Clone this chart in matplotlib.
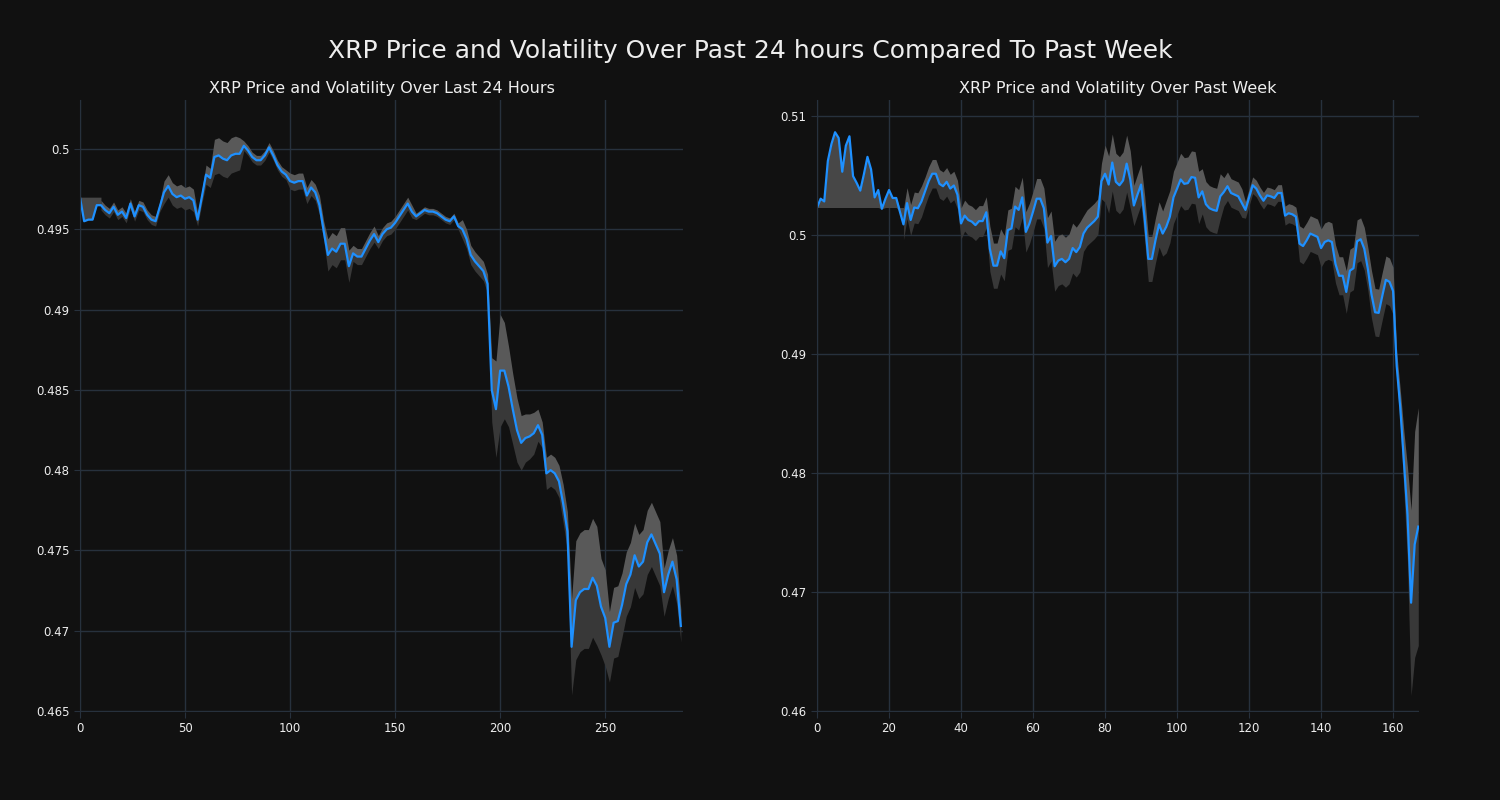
import numpy as np
import matplotlib
matplotlib.use("Agg")
import matplotlib.pyplot as plt

# last 24 hours, one reading every 2 steps (x = 0, 2, ..., 286)
day_x = np.arange(0, 288, 2)
day_price = [
    0.4970, 0.4955, 0.4956, 0.4956, 0.4965, 0.4965, 0.4962, 0.4960, 0.4964, 0.4959,
    0.4961, 0.4957, 0.4966, 0.4958, 0.4965, 0.4964, 0.4959, 0.4956, 0.4955, 0.4964,
    0.4973, 0.4977, 0.4972, 0.4970, 0.4971, 0.4969, 0.4970, 0.4968, 0.4956, 0.4970,
    0.4984, 0.4982, 0.4995, 0.4996, 0.4994, 0.4993, 0.4996, 0.4997, 0.4997, 0.5002,
    0.4999, 0.4995, 0.4993, 0.4993, 0.4996, 0.5001, 0.4996, 0.4990, 0.4986, 0.4984,
    0.4980, 0.4979, 0.4980, 0.4980, 0.4971, 0.4976, 0.4973, 0.4965, 0.4949, 0.4934,
    0.4938, 0.4936, 0.4941, 0.4941, 0.4927, 0.4935, 0.4933, 0.4933, 0.4938, 0.4943,
    0.4947, 0.4942, 0.4947, 0.4950, 0.4951, 0.4954, 0.4958, 0.4962, 0.4966, 0.4961,
    0.4958, 0.4960, 0.4962, 0.4961, 0.4961, 0.4960, 0.4958, 0.4956, 0.4955, 0.4958,
    0.4952, 0.4950, 0.4944, 0.4934, 0.4930, 0.4927, 0.4924, 0.4916, 0.4850, 0.4838,
    0.4862, 0.4862, 0.4852, 0.4838, 0.4825, 0.4817, 0.4820, 0.4821, 0.4823, 0.4828,
    0.4822, 0.4798, 0.4800, 0.4798, 0.4793, 0.4779, 0.4762, 0.4690, 0.4719, 0.4724,
    0.4726, 0.4726, 0.4733, 0.4728, 0.4715, 0.4708, 0.4690, 0.4705, 0.4706, 0.4716,
    0.4729, 0.4735, 0.4747, 0.4740, 0.4743, 0.4755, 0.4760, 0.4754, 0.4748, 0.4724,
    0.4735, 0.4743, 0.4732, 0.4703,
]
day_vol = [
    0, 0, 0, 0, 0, 0.0003, 0.0003, 0.0003, 0.0003, 0.0003,
    0.0003, 0.0003, 0.0003, 0.0003, 0.0003, 0.0003, 0.0003, 0.0003, 0.0003, 0.0003,
    0.0007, 0.0007, 0.0007, 0.0007, 0.0007, 0.0007, 0.0007, 0.0007, 0.0004, 0.0004,
    0.0006, 0.0006, 0.0011, 0.0011, 0.0011, 0.0011, 0.0011, 0.0011, 0.0010, 0.0003,
    0.0003, 0.0003, 0.0003, 0.0003, 0.0003, 0.0003, 0.0003, 0.0003, 0.0003, 0.0003,
    0.0005, 0.0005, 0.0005, 0.0005, 0.0005, 0.0005, 0.0005, 0.0006, 0.0006, 0.0010,
    0.0010, 0.0010, 0.0010, 0.0010, 0.0010, 0.0005, 0.0005, 0.0005, 0.0005, 0.0005,
    0.0005, 0.0004, 0.0004, 0.0004, 0.0004, 0.0004, 0.0004, 0.0004, 0.0004, 0.0004,
    0.0002, 0.0002, 0.0002, 0.0002, 0.0002, 0.0002, 0.0002, 0.0002, 0.0002, 0.0002,
    0.0002, 0.0006, 0.0006, 0.0006, 0.0006, 0.0006, 0.0006, 0.0006, 0.0020, 0.0030,
    0.0035, 0.0030, 0.0025, 0.0022, 0.0020, 0.0017, 0.0015, 0.0014, 0.0013, 0.0010,
    0.0008, 0.0010, 0.0010, 0.0010, 0.0010, 0.0012, 0.0012, 0.0030, 0.0037, 0.0037,
    0.0037, 0.0037, 0.0037, 0.0037, 0.0030, 0.0030, 0.0022, 0.0022, 0.0022, 0.0020,
    0.0020, 0.0020, 0.0020, 0.0020, 0.0020, 0.0020, 0.0020, 0.0020, 0.0020, 0.0015,
    0.0015, 0.0015, 0.0015, 0.0010,
]
day_warmup = 5

# past week, hourly
week_x = np.arange(168)
week_price = [
    0.50233, 0.50307, 0.50284, 0.50625, 0.50767, 0.50866, 0.50818, 0.50534, 0.50753, 0.50832,
    0.50497, 0.50440, 0.50375, 0.50511, 0.50659, 0.50554, 0.50318, 0.50380, 0.50222, 0.50307,
    0.50380, 0.50313, 0.50313, 0.50199, 0.50091, 0.50270, 0.50128, 0.50233, 0.50227, 0.50284,
    0.50369, 0.50455, 0.50517, 0.50517, 0.50432, 0.50412, 0.50449, 0.50392, 0.50418, 0.50341,
    0.50099, 0.50165, 0.50128, 0.50114, 0.50085, 0.50119, 0.50119, 0.50193, 0.49886, 0.49744,
    0.49744, 0.49864, 0.49807, 0.50043, 0.50057, 0.50241, 0.50213, 0.50318, 0.50028, 0.50099,
    0.50199, 0.50307, 0.50307, 0.50227, 0.49938, 0.49994, 0.49739, 0.49787, 0.49801, 0.49773,
    0.49801, 0.49892, 0.49858, 0.49901, 0.50014, 0.50063, 0.50091, 0.50119, 0.50156, 0.50455,
    0.50517, 0.50426, 0.50611, 0.50449, 0.50420, 0.50460, 0.50602, 0.50469, 0.50250, 0.50341,
    0.50426, 0.50142, 0.49801, 0.49801, 0.49957, 0.50091, 0.50014, 0.50071, 0.50156, 0.50318,
    0.50392, 0.50469, 0.50432, 0.50438, 0.50489, 0.50483, 0.50318, 0.50369, 0.50261, 0.50227,
    0.50213, 0.50205, 0.50327, 0.50364, 0.50412, 0.50355, 0.50341, 0.50327, 0.50270, 0.50213,
    0.50318, 0.50420, 0.50392, 0.50335, 0.50290, 0.50335, 0.50327, 0.50313, 0.50355, 0.50355,
    0.50165, 0.50185, 0.50176, 0.50156, 0.49929, 0.49909, 0.49957, 0.50014, 0.50000, 0.49986,
    0.49892, 0.49943, 0.49957, 0.49943, 0.49759, 0.49659, 0.49659, 0.49523, 0.49702, 0.49722,
    0.49949, 0.49966, 0.49886, 0.49716, 0.49503, 0.49352, 0.49347, 0.49489, 0.49625, 0.49608,
    0.49531, 0.48900, 0.48550, 0.48100, 0.47650, 0.46910, 0.47400, 0.47550,
]
week_vol = [
    0, 0, 0, 0, 0, 0, 0, 0, 0, 0,
    0, 0, 0, 0, 0, 0, 0, 0, 0, 0,
    0, 0, 0, 0, 0.0013, 0.0013, 0.0013, 0.0013, 0.0013, 0.0013,
    0.0012, 0.0012, 0.0012, 0.0012, 0.0012, 0.0012, 0.0012, 0.0012, 0.0012, 0.0012,
    0.0013, 0.0013, 0.0013, 0.0013, 0.0013, 0.0013, 0.0013, 0.0013, 0.0019, 0.0019,
    0.0019, 0.0019, 0.0019, 0.0017, 0.0017, 0.0017, 0.0017, 0.0017, 0.0017, 0.0017,
    0.0017, 0.0017, 0.0017, 0.0017, 0.0021, 0.0021, 0.0021, 0.0021, 0.0021, 0.0021,
    0.0021, 0.0021, 0.0021, 0.0021, 0.0015, 0.0015, 0.0015, 0.0015, 0.0015, 0.0015,
    0.0024, 0.0024, 0.0024, 0.0024, 0.0024, 0.0024, 0.0024, 0.0024, 0.0017, 0.0017,
    0.0017, 0.0019, 0.0019, 0.0019, 0.0019, 0.0019, 0.0019, 0.0022, 0.0022, 0.0022,
    0.0022, 0.0022, 0.0022, 0.0022, 0.0022, 0.0022, 0.0022, 0.0019, 0.0019, 0.0019,
    0.0019, 0.0019, 0.0019, 0.0012, 0.0012, 0.0012, 0.0012, 0.0012, 0.0012, 0.0007,
    0.0007, 0.0007, 0.0007, 0.0007, 0.0007, 0.0007, 0.0007, 0.0007, 0.0007, 0.0007,
    0.0008, 0.0008, 0.0008, 0.0008, 0.0015, 0.0015, 0.0015, 0.0015, 0.0015, 0.0015,
    0.0016, 0.0016, 0.0016, 0.0016, 0.0016, 0.0016, 0.0016, 0.0018, 0.0018, 0.0018,
    0.0018, 0.0018, 0.0018, 0.0018, 0.0020, 0.0020, 0.0020, 0.0020, 0.0020, 0.0020,
    0.0020, 0.0012, 0.0015, 0.0025, 0.0040, 0.0078, 0.0095, 0.0100,
]
week_warmup = 24

BG = '#111111'
GRID = '#27313d'
TXT = '#eeeeee'
LINE = '#1e90ff'

fig = plt.figure(figsize=(15, 8), dpi=100, facecolor=BG)
fig.suptitle('XRP Price and Volatility Over Past 24 hours Compared To Past Week',
             color=TXT, fontsize=18, y=0.951)

ax1 = fig.add_axes([0.0533, 0.11, 0.402, 0.765])
ax2 = fig.add_axes([0.5447, 0.11, 0.4013, 0.765])


def draw(ax, x, price, vol, warm, title, xmax, ylim, yticks, ylabels):
    price = np.array(price)
    vol = np.array(vol)
    base = price[0]
    # warm-up window: band runs from the first value to the price
    w = slice(0, warm + 1)
    ax.fill_between(x[w], np.minimum(price[w], base), np.maximum(price[w], base),
                    color='#474747', linewidth=0)
    r = slice(warm, None)
    ax.fill_between(x[r], price[r], price[r] + vol[r], color='#595959', linewidth=0)
    ax.fill_between(x[r], price[r] - vol[r], price[r], color='#383838', linewidth=0)
    ax.plot(x, price, color=LINE, linewidth=1.6)

    ax.set_facecolor(BG)
    ax.set_title(title, color=TXT, fontsize=11.5, pad=5)
    ax.set_xlim(0, xmax)
    ax.set_ylim(*ylim)
    ax.set_yticks(yticks)
    ax.set_yticklabels(ylabels)
    ax.grid(True, color=GRID, linewidth=1)
    ax.set_axisbelow(True)
    for s in ['top', 'right', 'bottom']:
        ax.spines[s].set_visible(False)
    ax.spines['left'].set_color(GRID)
    ax.tick_params(colors=TXT, labelsize=8.5, length=4, color=GRID)


draw(ax1, day_x, day_price, day_vol, day_warmup,
     'XRP Price and Volatility Over Last 24 Hours', 287,
     (0.46494, 0.50305),
     [0.465, 0.47, 0.475, 0.48, 0.485, 0.49, 0.495, 0.5],
     ['0.465', '0.47', '0.475', '0.48', '0.485', '0.49', '0.495', '0.5'])
ax1.set_xticks([0, 50, 100, 150, 200, 250])

draw(ax2, week_x, week_price, week_vol, week_warmup,
     'XRP Price and Volatility Over Past Week', 167.2,
     (0.45991, 0.51137),
     [0.46, 0.47, 0.48, 0.49, 0.5, 0.51],
     ['0.46', '0.47', '0.48', '0.49', '0.5', '0.51'])
ax2.set_xticks([0, 20, 40, 60, 80, 100, 120, 140, 160])

fig.savefig('out.png', dpi=100, facecolor=BG)
